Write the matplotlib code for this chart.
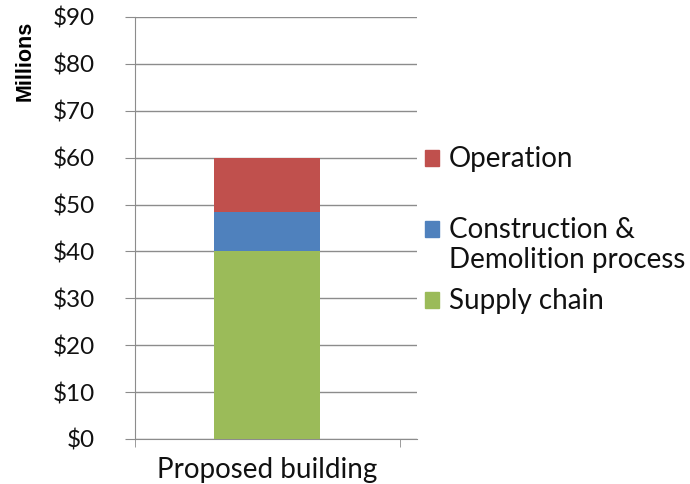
import matplotlib
matplotlib.use("Agg")
import matplotlib.pyplot as plt
from matplotlib.patches import Patch, Rectangle
from matplotlib.legend_handler import HandlerPatch

# chart data (millions of dollars)
category = ["Proposed building"]
series = ["Supply chain", "Construction &\nDemolition process", "Operation"]
values = [40, 8.5, 11.5]
colors = ["#9BBB59", "#4F81BD", "#C0504D"]
yticks = [0, 10, 20, 30, 40, 50, 60, 70, 80, 90]

plt.rcParams["font.family"] = ["Lato", "DejaVu Sans"]
text_color = "#111111"
grid_color = "#8c8c8c"

fig = plt.figure(figsize=(6.9, 4.84), dpi=100)
ax = fig.add_axes([135 / 690, 1 - 439 / 484, 282 / 690, 422 / 484])

bottom = 0
for name, val, col in zip(series, values, colors):
    ax.bar(0, val, bottom=bottom, width=0.4, color=col, label=name, zorder=3)
    bottom += val

ax.set_ylim(0, 90)
ax.set_xlim(-0.5, 0.5 + 17 / 264)
ax.set_yticks(yticks)
ax.set_yticklabels(["$%d" % v for v in yticks], fontsize=17.5, color=text_color)
ax.set_xticks([0])
ax.set_xticklabels(category, fontsize=20, color=text_color)
ax.tick_params(axis="x", length=0, pad=13)
ax.set_xticks([-0.5, 0.5], minor=True)
ax.tick_params(axis="x", which="minor", length=6, color=grid_color, direction="out")
ax.tick_params(axis="y", length=7, color=grid_color, pad=22)
ax.grid(axis="y", color=grid_color, linewidth=1, zorder=0)

for s in ["top", "right"]:
    ax.spines[s].set_visible(False)
for s in ["left", "bottom"]:
    ax.spines[s].set_color(grid_color)

fig.text(25 / 690, 1 - 61 / 484, "Millions", rotation=90, ha="center", va="center",
         fontsize=15.5, fontweight="bold", color="black",
         family=["Liberation Sans", "DejaVu Sans"])


# legend swatch sits beside the first line of each (two-line) entry
def top_swatch(legend, orig_handle, xdescent, ydescent, width, height, fontsize):
    return Rectangle((-xdescent, -ydescent + 12), width, height)


# every entry is padded to two lines so the swatches keep an even pitch
handles = [Patch(color=c) for c in colors][::-1]
labels = [lab if "\n" in lab else lab + "\n" for lab in series[::-1]]
leg = ax.legend(handles, labels, loc="upper left", bbox_to_anchor=(425 / 690, 1 - 146 / 484),
                bbox_transform=fig.transFigure, frameon=False, fontsize=20,
                handlelength=0.5, handleheight=0.5, handletextpad=0.35, labelspacing=0.55,
                labelcolor=text_color, borderaxespad=0, borderpad=0,
                handler_map={Patch: HandlerPatch(patch_func=top_swatch)})
for t in leg.get_texts():
    t.set_linespacing(1.18)

fig.savefig("out.png", dpi=100)
